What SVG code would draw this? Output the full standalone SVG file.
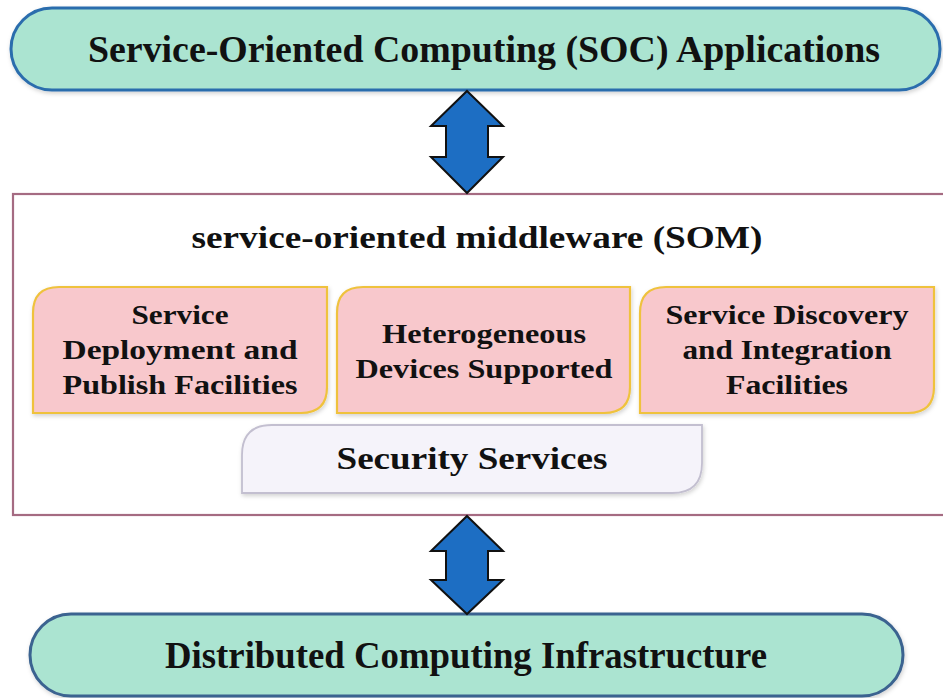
<svg xmlns="http://www.w3.org/2000/svg" width="943" height="698" viewBox="0 0 943 698">
  <defs>
    <filter id="shadow" x="-5%" y="-10%" width="110%" height="130%">
      <feDropShadow dx="1" dy="2" stdDeviation="2" flood-color="#000" flood-opacity="0.18"/>
    </filter>
  </defs>
  <style>
    .pill { fill: #abe4d1; stroke-width: 3; filter: url(#shadow); }
    .facility { fill: #f8c8cc; stroke: #efc23e; stroke-width: 2.2; filter: url(#shadow); }
    .security { fill: #f5f3fa; stroke: #c3bfd0; stroke-width: 1.8; filter: url(#shadow); }
    .frame { fill: #ffffff; stroke: #a56b82; stroke-width: 2.2; }
    .arrow { fill: #1d6ec3; stroke: #111; stroke-width: 2; stroke-linejoin: miter; }
    text { font-family: "Liberation Serif", "DejaVu Serif", serif; font-weight: bold; fill: #111; text-anchor: middle; }
    .big { font-size: 37px; }
    .mid { font-size: 31px; }
    .box { font-size: 28px; }
  </style>

  <!-- middleware frame -->
  <g id="som">
    <rect class="frame" x="13" y="194" width="940" height="321"/>
    <text class="mid" x="477" y="248" textLength="571" lengthAdjust="spacingAndGlyphs">service-oriented middleware (SOM)</text>
  </g>

  <!-- top application layer -->
  <g id="soc-apps">
    <rect class="pill" x="11" y="8" width="929" height="82" rx="41" ry="41" stroke="#2c6dad"/>
    <text class="big" x="484" y="62" textLength="792" lengthAdjust="spacingAndGlyphs">Service-Oriented Computing (SOC)  Applications</text>
  </g>

  <!-- facility boxes -->
  <g id="deploy-publish">
    <path class="facility" d="M33,413 V313 Q33,287 59,287 H327 V387 Q327,413 301,413 Z"/>
    <text class="box" x="180" y="324" textLength="97" lengthAdjust="spacingAndGlyphs">Service</text>
    <text class="box" x="180" y="359" textLength="235" lengthAdjust="spacingAndGlyphs">Deployment and</text>
    <text class="box" x="180" y="394" textLength="235" lengthAdjust="spacingAndGlyphs">Publish Facilities</text>
  </g>
  <g id="heterogeneous">
    <path class="facility" d="M337,413 V313 Q337,287 363,287 H630 V387 Q630,413 604,413 Z"/>
    <text class="box" x="484" y="343" textLength="204" lengthAdjust="spacingAndGlyphs">Heterogeneous</text>
    <text class="box" x="484" y="378" textLength="257" lengthAdjust="spacingAndGlyphs">Devices Supported</text>
  </g>
  <g id="discovery-integration">
    <path class="facility" d="M640,413 V313 Q640,287 666,287 H934 V387 Q934,413 908,413 Z"/>
    <text class="box" x="787" y="324" textLength="243" lengthAdjust="spacingAndGlyphs">Service Discovery</text>
    <text class="box" x="787" y="359" textLength="209" lengthAdjust="spacingAndGlyphs">and Integration</text>
    <text class="box" x="787" y="394" textLength="122" lengthAdjust="spacingAndGlyphs">Facilities</text>
  </g>

  <!-- security layer -->
  <g id="security">
    <path class="security" d="M242,493 V455 Q242,425 272,425 H702 V463 Q702,493 672,493 Z"/>
    <text class="mid" x="472" y="469" textLength="271" lengthAdjust="spacingAndGlyphs">Security Services</text>
  </g>

  <!-- infrastructure layer -->
  <g id="infrastructure">
    <rect class="pill" x="30" y="614" width="873" height="82" rx="41" ry="41" stroke="#3b6390"/>
    <text class="big" x="466" y="668" textLength="602" lengthAdjust="spacingAndGlyphs">Distributed Computing Infrastructure</text>
  </g>

  <!-- two-way connectors between layers -->
  <g id="connectors">
    <polygon class="arrow" points="467,91 503,126 488,126 488,157 503,157 467,193 431,157 446,157 446,126 431,126"/>
    <polygon class="arrow" points="467,516 503,551 488,551 488,580 503,580 467,614 431,580 446,580 446,551 431,551"/>
  </g>
</svg>
